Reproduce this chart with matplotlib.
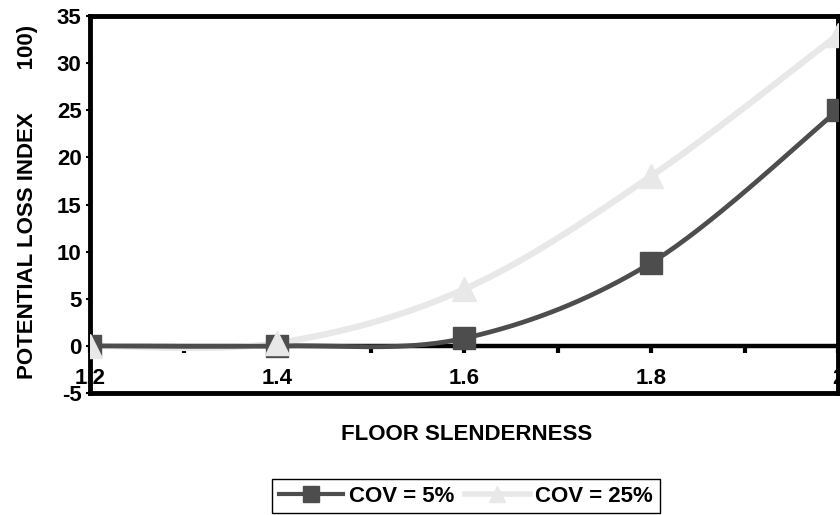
import matplotlib.pyplot as plt
import numpy as np

plt.rcParams["font.family"] = ["Liberation Sans", "DejaVu Sans"]
plt.rcParams["font.weight"] = "bold"
plt.rcParams["axes.unicode_minus"] = False

slenderness = [1.2, 1.4, 1.6, 1.8, 2.0]
loss_cov5 = [0.0, 0.0, 0.8, 8.8, 25.0]
loss_cov25 = [0.0, 0.3, 6.0, 18.0, 33.0]
x_tick_values = [1.2, 1.4, 1.6, 1.8, 2.0]
x_tick_labels = ["1.2", "1.4", "1.6", "1.8", "2"]
y_tick_values = [-5, 0, 5, 10, 15, 20, 25, 30, 35]

DARK = "#4d4d4d"
LIGHT = "#e8e8e8"
FS = 16


def smooth(xs, ys, n=40):
    # spreadsheet-style smoothed line: cubic Bezier segments, Catmull-Rom control points
    p = np.column_stack([xs, ys]).astype(float)
    p_ext = np.vstack([p[0], p, p[-1]])
    t = np.linspace(0, 1, n)[:, None]
    out = []
    for i in range(len(p) - 1):
        p0, p1, p2, p3 = p_ext[i], p_ext[i + 1], p_ext[i + 2], p_ext[i + 3]
        c1 = p1 + (p2 - p0) / 6
        c2 = p2 - (p3 - p1) / 6
        seg = ((1 - t) ** 3) * p1 + 3 * ((1 - t) ** 2) * t * c1 + 3 * (1 - t) * t ** 2 * c2 + t ** 3 * p2
        out.append(seg if i == 0 else seg[1:])
    out = np.vstack(out)
    return out[:, 0], out[:, 1]


fig = plt.figure(figsize=(8.4, 5.15), dpi=100)
ax = fig.add_axes([90 / 840, 1 - 393 / 515, 748 / 840, (393 - 16) / 515])

ax.set_xlim(1.2, 2.0)
ax.set_ylim(-5, 35)

# x axis sits on the zero line, the frame is closed with a separate line at -5
ax.axhline(0, color="black", lw=3.2, zorder=1)
ax.spines["bottom"].set_position(("data", 0))
ax.spines["bottom"].set_visible(False)
for side in ["top", "left", "right"]:
    ax.spines[side].set_linewidth(3.5)
ax.axhline(-5, color="black", lw=3.5, clip_on=False, zorder=5)

sx, sy = smooth(slenderness, loss_cov25)
ax.plot(sx, sy, color=LIGHT, lw=4.5, solid_capstyle="round", zorder=2)
sx, sy = smooth(slenderness, loss_cov5)
ax.plot(sx, sy, color=DARK, lw=3.4, solid_capstyle="round", zorder=3)
ax.plot(slenderness, loss_cov5, ls="none", marker="s", ms=15.5, color=DARK, zorder=3)
ax.plot(slenderness, loss_cov25, ls="none", marker="^", ms=17, color=LIGHT, zorder=4)

ax.set_xticks(x_tick_values)
ax.set_xticklabels(x_tick_labels)
ax.set_xticks([1.3, 1.5, 1.7, 1.9], minor=True)
ax.tick_params(axis="x", which="both", direction="out", length=5, width=3, pad=11,
               labelsize=FS)
ax.set_yticks(y_tick_values)
ax.tick_params(axis="y", direction="out", length=3, width=1.5, pad=3, labelsize=FS)
for lbl in ax.get_xticklabels() + ax.get_yticklabels():
    lbl.set_fontweight("bold")

fig.text(467 / 840, 1 - 435 / 515, "FLOOR SLENDERNESS", ha="center", va="center",
         fontsize=FS, fontweight="bold")
fig.text(28 / 840, 1 - 202 / 515, "POTENTIAL LOSS INDEX       100)", ha="center",
         va="center", rotation=90, fontsize=FS, fontweight="bold")

h1, = ax.plot([], [], color=DARK, lw=3.0, marker="s", ms=11)
h2, = ax.plot([], [], color=LIGHT, lw=4.0, marker="^", ms=12)
leg = fig.legend([h1, h2], ["COV = 5%", "COV = 25%"], ncol=2, loc="upper left",
                 bbox_to_anchor=(272 / 840, 1 - 479 / 515), fontsize=FS,
                 frameon=True, fancybox=False, edgecolor="black", framealpha=1,
                 handlelength=2.9, handletextpad=0.25, columnspacing=0.5,
                 borderpad=0.3, borderaxespad=0)
leg.get_frame().set_linewidth(1.0)
for t in leg.get_texts():
    t.set_fontweight("bold")

fig.savefig("out.png", dpi=100)
